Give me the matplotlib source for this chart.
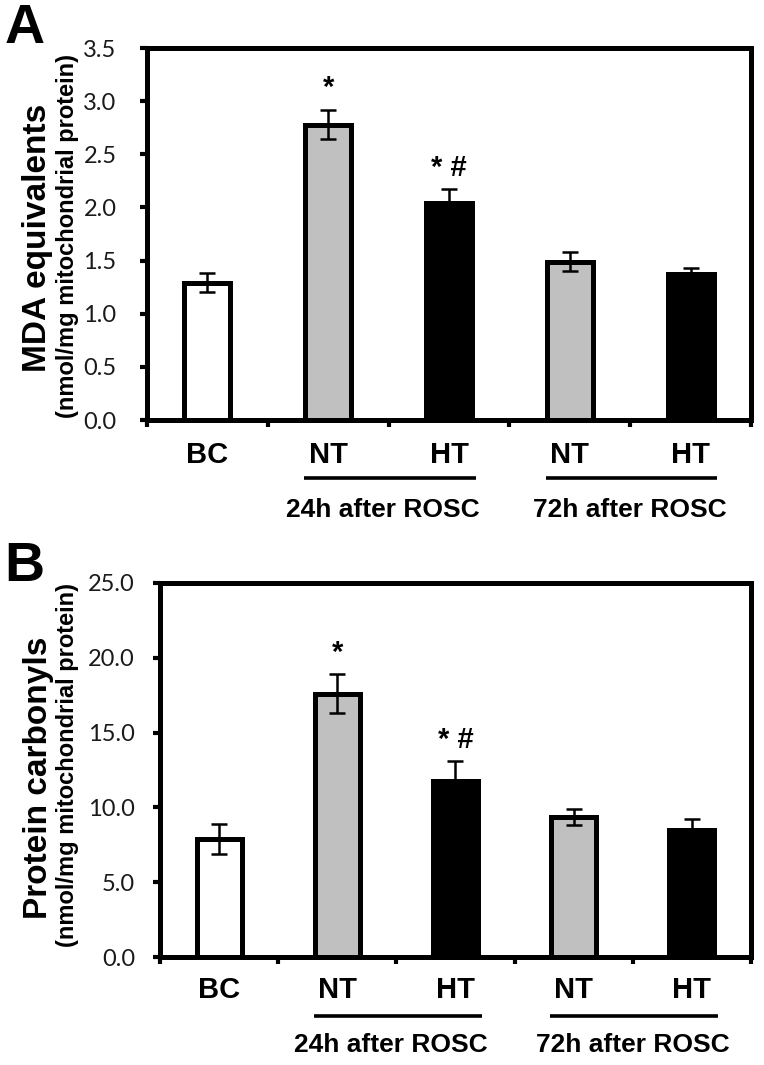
import matplotlib
matplotlib.use("Agg")
import matplotlib.pyplot as plt
import matplotlib.transforms as mtransforms
from matplotlib.ticker import FormatStrFormatter, MultipleLocator

# data
groups = ["BC", "NT", "HT", "NT", "HT"]
bar_colors = ["white", "#c0c0c0", "black", "#c0c0c0", "black"]

mda = [1.29, 2.78, 2.04, 1.49, 1.37]
mda_err = [0.09, 0.14, 0.13, 0.09, 0.06]
mda_marks = ["", "*", "* #", "", ""]

carb = [7.9, 17.6, 11.75, 9.35, 8.5]
carb_err = [1.0, 1.3, 1.35, 0.55, 0.7]
carb_marks = ["", "*", "* #", "", ""]

time_groups = ["24h after ROSC", "72h after ROSC"]
unit = "(nmol/mg mitochondrial protein)"

tick_font = ["Lato", "DejaVu Sans"]
bold_font = ["Liberation Sans", "DejaVu Sans"]

W, H = 764, 1065
fig = plt.figure(figsize=(W / 100, H / 100), dpi=100)


def panel(rect, vals, errs, marks, ylim, step, lab_y, line_y, grp_y, pad):
    ax = fig.add_axes(rect)
    x = list(range(len(vals)))
    ax.bar(x, vals, width=0.38, color=bar_colors, edgecolor="black",
           linewidth=3.6, zorder=2)
    ax.errorbar(x, vals, yerr=errs, fmt="none", ecolor="black",
                elinewidth=1.8, capsize=6, capthick=1.8, zorder=3)
    for xi, v, e, m in zip(x, vals, errs, marks):
        if m:
            ax.text(xi, v + e + ylim[1] * 0.02, m, ha="center", va="bottom",
                    fontsize=21, fontweight="bold", family=bold_font)
    ax.set_xlim(-0.5, 4.5)
    ax.set_ylim(*ylim)
    ax.yaxis.set_major_locator(MultipleLocator(step))
    ax.yaxis.set_major_formatter(FormatStrFormatter("%.1f"))
    ax.set_xticks([i - 0.5 for i in range(6)])
    ax.set_xticklabels([])
    ax.tick_params(axis="both", direction="out", length=5, width=3)
    ax.tick_params(axis="y", labelsize=17, pad=pad, labelcolor="#1a1a1a")
    for lbl in ax.get_yticklabels():
        lbl.set_family(tick_font)
    for s in ax.spines.values():
        s.set_linewidth(3.6)
    ax.spines["left"].set_zorder(4)
    ax.spines["bottom"].set_zorder(4)

    tr = mtransforms.blended_transform_factory(ax.transData, ax.transAxes)
    for xi, g in zip(x, groups):
        ax.text(xi, lab_y, g, transform=tr, ha="center", va="center",
                fontsize=21, fontweight="bold", family=bold_font)
    for (a, b), c, t in zip([(0.8, 2.22), (2.8, 4.22)], [1.45, 3.5], time_groups):
        ax.plot([a, b], [line_y, line_y], transform=tr, color="black",
                linewidth=2.6, clip_on=False, solid_capstyle="butt")
        ax.text(c, grp_y, t, transform=tr, ha="center", va="center",
                fontsize=19, fontweight="bold", family=bold_font)
    return ax


axA = panel([0.1924, 0.6056, 0.7906, 0.3493], mda, mda_err, mda_marks,
            (0, 3.5), 0.5, -0.094, -0.156, -0.242, 17)
axB = panel([0.2094, 0.1014, 0.7736, 0.3512], carb, carb_err, carb_marks,
            (0, 25), 5.0, -0.088, -0.158, -0.235, 13)

# y axis titles (positions in pixels of the figure)
fig.text(38 / W, 1 - 238 / H, "MDA equivalents", rotation=90, ha="center",
         va="center", fontsize=24, fontweight="bold", family=bold_font)
fig.text(68 / W, 1 - 236 / H, unit, rotation=90, ha="center", va="center",
         fontsize=17, fontweight="bold", family=bold_font)
fig.text(39 / W, 1 - 778 / H, "Protein carbonyls", rotation=90, ha="center",
         va="center", fontsize=24, fontweight="bold", family=bold_font)
fig.text(68 / W, 1 - 765 / H, unit, rotation=90, ha="center", va="center",
         fontsize=17, fontweight="bold", family=bold_font)

fig.text(0.006, 0.997, "A", ha="left", va="top", fontsize=40, fontweight="bold", family=bold_font)
fig.text(0.006, 0.492, "B", ha="left", va="top", fontsize=40, fontweight="bold", family=bold_font)

fig.savefig("out.png", dpi=100)
